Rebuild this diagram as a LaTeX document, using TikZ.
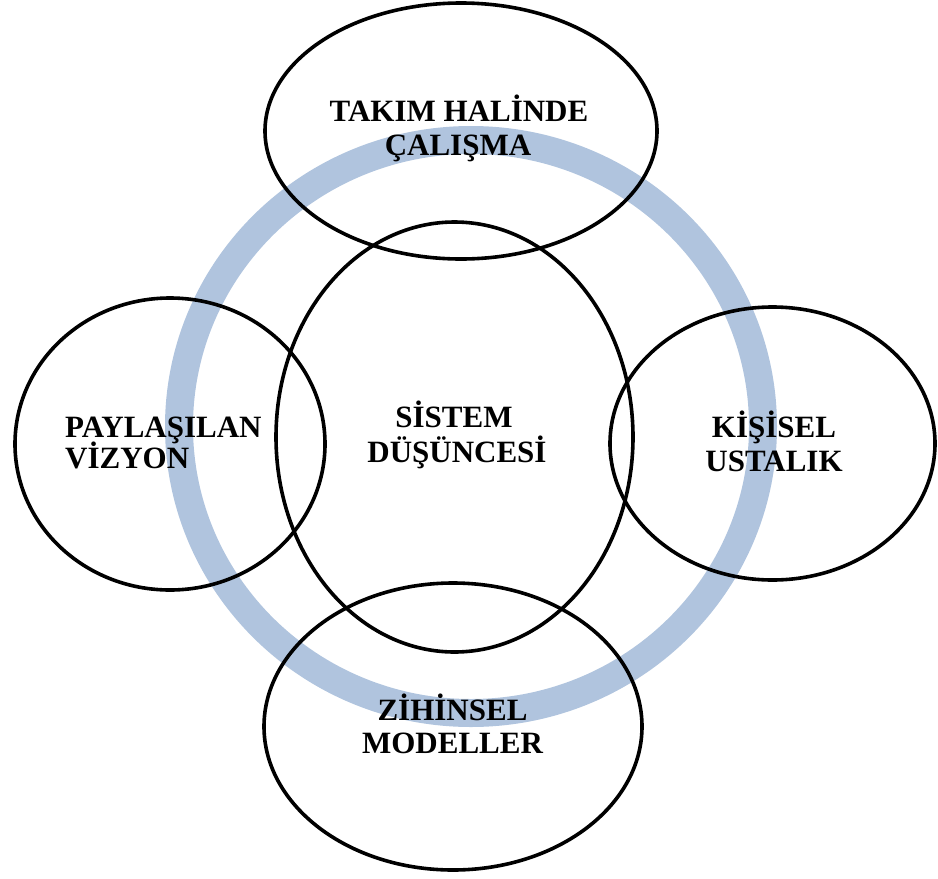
\documentclass[tikz,border=0pt]{standalone}
\usepackage{fontspec}
\setmainfont{Liberation Serif}
\usetikzlibrary{shapes.geometric}
\definecolor{ringblue}{HTML}{B0C4DE}
\tikzset{
  oval/.style={ellipse, draw=black, line width=3.6pt, inner sep=0pt, outer sep=0pt},
  lbl/.style={font=\fontsize{31}{33}\selectfont\bfseries, inner sep=0pt, anchor=base},
  lbll/.style={lbl, anchor=base west}
}
\begin{document}
\begin{tikzpicture}[x=1pt,y=-1pt]
\useasboundingbox (0,0) rectangle (938,879);
% ring
\coordinate (rc) at (471,426.5);
\draw[ringblue, line width=28pt] (rc) ellipse [x radius=292, y radius=286.5];
% ellipses
\node[oval, minimum width=392pt, minimum height=256pt] (top) at (461,131) {};
\node[oval, minimum width=357pt, minimum height=430pt] (mid) at (454.5,437) {};
\node[oval, minimum width=310pt, minimum height=292pt] (left) at (170,444) {};
\node[oval, minimum width=325pt, minimum height=273pt] (right) at (772.5,443.5) {};
\node[oval, minimum width=378pt, minimum height=287pt] (bot) at (453,726.5) {};
% labels
\node[lbl] (t1) at (459,121.5) {TAKIM HALİNDE};
\node[lbl] (t2) at (458,155) {ÇALIŞMA};
\node[lbll] (l1) at (65,437) {PAYLAŞILAN};
\node[lbll] (l2) at (65,468) {VİZYON};
\node[lbl] (m1) at (454,427.5) {SİSTEM};
\node[lbl] (m2) at (457,462) {DÜŞÜNCESİ};
\node[lbl] (r1) at (774,437) {KİŞİSEL};
\node[lbl] (r2) at (774,471) {USTALIK};
\node[lbl] (b1) at (452.5,720) {ZİHİNSEL};
\node[lbl] (b2) at (452.5,753) {MODELLER};
\end{tikzpicture}
\end{document}
